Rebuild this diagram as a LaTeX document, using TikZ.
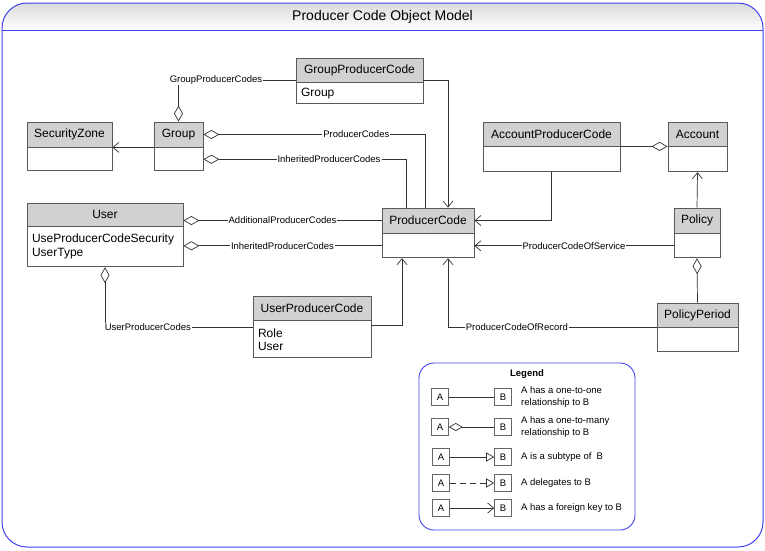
\documentclass[tikz,border=0pt]{standalone}
\usepackage{fontspec}
\setmainfont{Liberation Sans}
\usetikzlibrary{arrows.meta,positioning}
\definecolor{frameblue}{RGB}{64,64,240}

\begin{document}
\begin{tikzpicture}[x=1pt,y=-1pt,
  hdr/.style={draw=black!65, line width=0.8pt, fill=black!18, inner sep=0pt, font=\fontsize{12}{14}\selectfont},
  body/.style={draw=black!65, line width=0.8pt, fill=white, inner xsep=5pt, inner ysep=0pt, align=left, font=\fontsize{12}{14}\selectfont},
  lbl/.style={fill=white, inner sep=1pt, font=\fontsize{9.5}{11}\selectfont},
  agg/.style={draw=black!80, line width=0.7pt, {Diamond[open,length=16pt,width=9pt]}-},
  fk/.style={draw=black!80, line width=0.7pt, -{Straight Barb[length=6pt,width=10pt]}},
  lbox/.style={draw=black!60, line width=0.6pt, minimum size=17pt, inner sep=0pt, font=\fontsize{9.5}{11}\selectfont},
  ltext/.style={anchor=west, align=left, inner sep=0pt, font=\fontsize{9.5}{11.5}\selectfont}]

\useasboundingbox (0,0) rectangle (765,550);

% frame and title
\begin{scope}
\clip[rounded corners=25pt] (2,3) rectangle (763,547);
\shade[top color=black!14, bottom color=white] (2,3) rectangle (763,30);
\end{scope}
\draw[frameblue, line width=0.9pt] (2,30) -- (763,30);
\draw[frameblue, line width=1pt, rounded corners=25pt] (2,3) rectangle (763,547);
\node (title) at (382.5,16.5) {\fontsize{14}{16}\selectfont Producer Code Object Model};

% classes
\node[hdr, minimum width=127pt, minimum height=24pt] (GPC) at (359.5,70) {GroupProducerCode};
\node[body, below=0pt of GPC, text width=117pt, minimum height=21pt] (GPCb) {Group};

\node[hdr, minimum width=85pt, minimum height=25pt] (SZ) at (69.5,134.5) {SecurityZone};
\node[body, below=0pt of SZ, minimum width=85pt, minimum height=23pt] (SZb) {};

\node[hdr, minimum width=49pt, minimum height=25pt] (Grp) at (178.5,134.5) {Group};
\node[body, below=0pt of Grp, minimum width=49pt, minimum height=23pt] (Grpb) {};

\node[hdr, minimum width=137pt, minimum height=24pt] (APC) at (551.5,134) {AccountProducerCode};
\node[body, below=0pt of APC, minimum width=137pt, minimum height=25pt] (APCb) {};

\node[hdr, minimum width=59pt, minimum height=24pt] (Acct) at (697.5,134) {Account};
\node[body, below=0pt of Acct, minimum width=59pt, minimum height=25pt] (Acctb) {};

\node[hdr, minimum width=92pt, minimum height=25pt] (PC) at (428,220.5) {ProducerCode};
\node[body, below=0pt of PC, minimum width=92pt, minimum height=24pt] (PCb) {};

\node[hdr, minimum width=156pt, minimum height=23pt] (Usr) at (105,214.5) {User};
\node[body, below=0pt of Usr, text width=146pt, minimum height=40pt] (Usrb) {UseProducerCodeSecurity\\UserType};

\node[hdr, minimum width=46pt, minimum height=25pt] (Pol) at (697,220.5) {Policy};
\node[body, below=0pt of Pol, minimum width=46pt, minimum height=24pt] (Polb) {};

\node[hdr, minimum width=118pt, minimum height=24pt] (UPC) at (312,308) {UserProducerCode};
\node[body, below=0pt of UPC, text width=108pt, minimum height=37pt, font=\fontsize{12}{13}\selectfont] (UPCb) {Role\\User};

\node[hdr, minimum width=81pt, minimum height=24pt] (PP) at (697.5,315) {PolicyPeriod};
\node[body, below=0pt of PP, minimum width=81pt, minimum height=24pt] (PPb) {};

% connectors
\draw[agg] (Grp.north) |- node[lbl, pos=0.66] {GroupProducerCodes} ([yshift=-10pt]GPC.west);
\draw[fk] (Grp.south west) -- (SZ.south east);
\draw[agg] (Grp.east) -| node[lbl, pos=0.345] {ProducerCodes} ([xshift=-3pt]PC.north);
\draw[agg] (Grpb.east) -| node[lbl, pos=0.31] {InheritedProducerCodes} ([xshift=-22pt]PC.north);
\draw[fk] ([yshift=-10pt]GPC.east) -| ([xshift=20pt]PC.north);

\draw[agg] (PC.west -| Usr.east) -- node[lbl] {AdditionalProducerCodes} (PC.west);
\draw[agg] (PCb.west -| Usrb.east) -- node[lbl] {InheritedProducerCodes} (PCb.west);
\draw[agg] (Usrb.south) |- node[lbl, pos=0.645] {UserProducerCodes} ([yshift=-7pt]UPCb.north west);
\draw[fk] ([yshift=-5pt]UPCb.north east) -| ([xshift=-26pt]PCb.south);

\draw[fk] (PP.south west) -| node[lbl, pos=0.335] {ProducerCodeOfRecord} ([xshift=20pt]PCb.south);
\draw[fk] (APCb.south) |- (PC.east);
\draw[agg] (Acct.south west) -- (APC.south east);
\draw[fk] (Pol.north) -- (Acctb.south);
\draw[fk] (Polb.west) -- node[lbl] {ProducerCodeOfService} (PCb.east);
\draw[agg] (Polb.south) -- (PP.north);

% legend
\draw[frameblue, line width=0.9pt, rounded corners=15pt] (419,363) rectangle (635,530);
\node[font=\bfseries\fontsize{9.5}{11}\selectfont] (legT) at (527,374) {Legend};

\node[lbox] (a1) at (440,397) {A};
\node[lbox] (b1) at (503,397) {B};
\node[lbox] (a2) at (440,427) {A};
\node[lbox] (b2) at (503,427) {B};
\node[lbox] (a3) at (441,457) {A};
\node[lbox] (b3) at (503,457) {B};
\node[lbox] (a4) at (441,483) {A};
\node[lbox] (b4) at (503,483) {B};
\node[lbox] (a5) at (441,508) {A};
\node[lbox] (b5) at (503,508) {B};

\draw[draw=black!80, line width=0.7pt] (a1) -- (b1);
\draw[draw=black!80, line width=0.7pt, {Diamond[open,length=14pt,width=8pt]}-] (a2) -- (b2);
\draw[draw=black!80, line width=0.7pt, -{Triangle[open,length=8pt,width=9pt]}] (a3) -- (b3);
\draw[draw=black!80, line width=0.7pt, dash pattern=on 6pt off 4pt, -{Triangle[open,length=8pt,width=9pt]}] (a4) -- (b4);
\draw[fk] (a5) -- (b5);

\node[ltext] (t1) at (521,397) {A has a one-to-one\\relationship to B};
\node[ltext] (t2) at (521,427) {A has a one-to-many\\relationship to B};
\node[ltext] (t3) at (521,457) {A is a subtype of\ \ B};
\node[ltext] (t4) at (521,483) {A delegates to B};
\node[ltext] (t5) at (521,508) {A has a foreign key to B};

\end{tikzpicture}
\end{document}
